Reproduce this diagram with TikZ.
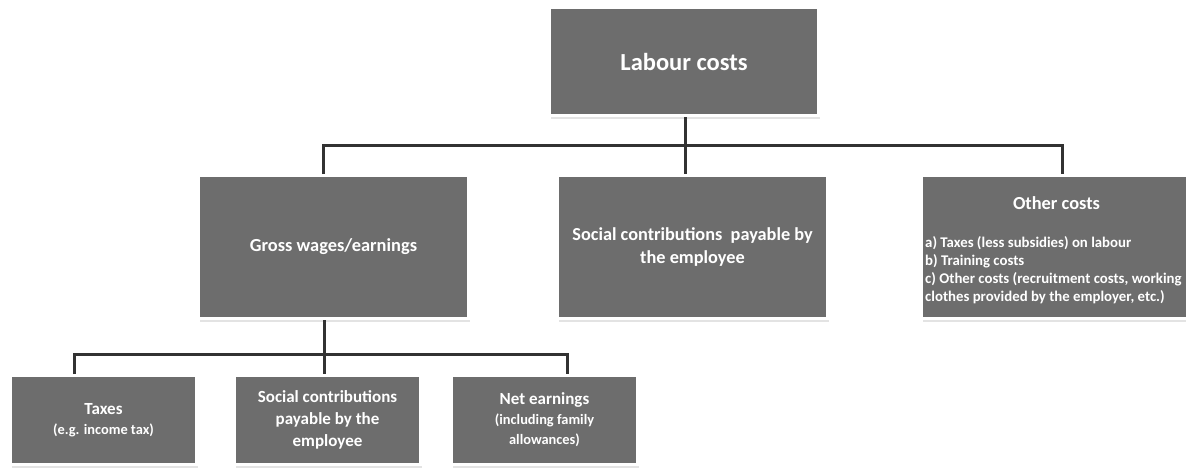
\documentclass[tikz,border=0pt]{standalone}
\usepackage{fontspec}
\setmainfont{Carlito}
\usetikzlibrary{shadows}
\definecolor{boxgray}{RGB}{109,109,109}
\definecolor{linkgray}{RGB}{50,50,50}

\begin{document}
\begin{tikzpicture}[x=1pt,y=-1pt,
  box/.style={draw=white, line width=3pt, fill=boxgray, text=white,
    inner sep=0pt, align=center,
    drop shadow={shadow xshift=1.6pt, shadow yshift=-3pt, opacity=0.22}},
  bigbox/.style={box, minimum width=270pt, minimum height=143pt},
  smallbox/.style={box, minimum width=186pt, minimum height=89pt},
  link/.style={draw=linkgray, line width=3pt}]
\useasboundingbox (0,0) rectangle (1186,467);

% bus points of the two levels
\coordinate (busL) at (323,145);
\coordinate (busM) at (685,145);
\coordinate (busR) at (1062,145);
\coordinate (subL) at (74,354);
\coordinate (subM) at (324,354);
\coordinate (subR) at (567,354);

\node[box, minimum width=269pt, minimum height=108pt,
  font=\bfseries\fontsize{24.5}{29}\selectfont] (labour) at (684,61.5) {Labour costs};

\node[bigbox, font=\bfseries\fontsize{18.4}{23}\selectfont] (gross) at (333.5,247)
  {Gross wages/earnings};
\node[bigbox, font=\bfseries\fontsize{18.3}{23.5}\selectfont] (socmid) at (692.5,247)
  {Social contributions\ \ payable by\\the employee};
\node[bigbox] (other) at (1056.5,247) {};
\node[text=white, anchor=base, inner sep=0pt,
  font=\bfseries\fontsize{18.4}{22}\selectfont] (othertitle) at (1056.5,209) {Other costs};
\node[text=white, anchor=north west, align=left, inner sep=0pt,
  font=\bfseries\fontsize{14.8}{18}\selectfont] (otherlist) at (925,236)
  {a) Taxes (less subsidies) on labour\\
   b) Training costs\\
   c) Other costs (recruitment costs, working\\
   clothes provided by the employer, etc.)};

\node[smallbox, font=\bfseries\fontsize{17}{20}\selectfont] (taxes) at (103.5,420)
  {Taxes\\{\fontsize{14.4}{20}\selectfont (e.g. income tax)}};
\node[smallbox, font=\bfseries\fontsize{17}{21.7}\selectfont] (socbot) at (327.5,420)
  {Social contributions\\payable by the\\employee};
\node[smallbox, font=\bfseries\fontsize{17}{20}\selectfont] (net) at (544.5,420)
  {Net earnings\\{\fontsize{14.4}{20}\selectfont (including family}\\{\fontsize{14.4}{20}\selectfont allowances)}};

% first level
\draw[link] (labour.south -| busM) -- (busM);
\draw[link] (gross.north -| busL) -- (busL) -- (busR) -- (other.north -| busR);
\draw[link] (busM) -- (socmid.north -| busM);

% second level
\draw[link] (gross.south -| subM) -- (subM);
\draw[link] (taxes.north -| subL) -- (subL) -- (subR) -- (net.north -| subR);
\draw[link] (subM) -- (socbot.north -| subM);
\end{tikzpicture}
\end{document}
